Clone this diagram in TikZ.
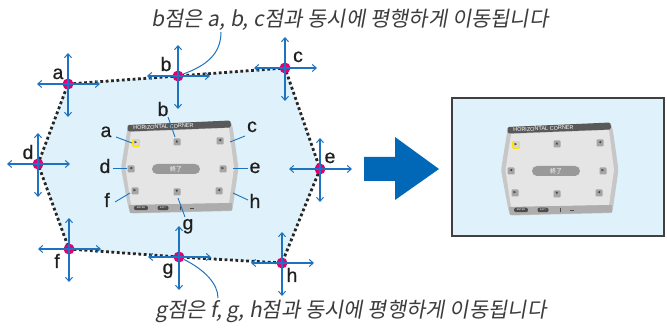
\documentclass[tikz,border=0pt]{standalone}
\usepackage{fontspec}
\setmainfont{Liberation Sans}
\newfontfamily\lblfont[FakeBold=0.6]{Liberation Sans}
\newfontfamily\krfont[FakeSlant=0.18]{Noto Sans CJK KR}
\newfontfamily\jpfont{Noto Sans CJK JP}
\newfontfamily\dvfont{DejaVu Sans}
\usetikzlibrary{arrows.meta,calc}
\definecolor{arrblue}{RGB}{30,115,190}
\definecolor{dotmag}{RGB}{226,0,122}
\definecolor{areablue}{RGB}{223,242,251}
\definecolor{bigblue}{RGB}{0,104,182}
\definecolor{txtgray}{RGB}{60,60,60}
\tikzset{
  movearrow/.style={draw=arrblue, line width=1.1pt, -{Straight Barb[length=4pt,width=7pt,line width=1pt]}},
  ptdot/.style={circle, fill=dotmag, inner sep=0pt, minimum size=11pt},
  lbl/.style={font=\lblfont\fontsize{19.5}{19.5}\selectfont, text=black!88, anchor=base, inner sep=0pt},
  leader/.style={draw=arrblue, line width=0.9pt},
  callout/.style={draw=arrblue, line width=1pt},
  hexoutline/.style={draw=black!85, line width=2.8pt, dash pattern=on 2.8pt off 2.6pt, fill=areablue},
  btn/.style={draw=none, fill=black!35, rounded corners=0.8pt, minimum size=7pt, inner sep=0pt, font=\dvfont\fontsize{3.5}{3.5}\selectfont, text=black!75},
  pill/.style={fill=black!70, rounded corners=2pt, minimum height=4.5pt, inner sep=0pt, text=white, font=\fontsize{2.5}{2.5}\selectfont},
  caption/.style={font=\krfont\fontsize{21}{21}\selectfont, text=txtgray, anchor=base, inner sep=0pt},
}
\newcommand\drawpanel[1]{%
  \fill[black!22, rounded corners=2pt] (128,126) -- (231,121.5) -- (233,129) -- (238.5,168) -- (233,206) -- (232,211) -- (130,213.5) -- (128,206) -- (121,168) -- (127,131) -- cycle;
  \fill[black!10] (131,132) -- (229,128) -- (234,168) -- (229,203) -- (131,205) -- (125.5,168) -- cycle;
  \fill[black!65, rounded corners=1.5pt] (127.5,131.5) -- (127.5,125) -- (230.5,120.5) -- (231,127.5) -- cycle;
  \node[font=\fontsize{5.5}{5.5}\selectfont, text=white, rotate=2.5, anchor=west, inner sep=0pt] (#1-title) at (133,128) {HORIZONTAL CORNER};
  \fill[black!32] (129,205) -- (232,203) -- (232,210.5) -- (130,213) -- cycle;
  \node[btn, fill=yellow!30!black!25, draw=yellow!85!orange, line width=0.7pt] (#1-a) at (136,143) {▶};
  \node[btn] (#1-b) at (177,142) {▲};
  \node[btn] (#1-c) at (220,141) {◀};
  \node[btn] (#1-d) at (131,169) {◀};
  \node[btn] (#1-e) at (223,169) {▶};
  \node[btn] (#1-f) at (135,191) {▶};
  \node[btn] (#1-g) at (177,192) {▼};
  \node[btn] (#1-h) at (219,191) {◀};
  \node[fill=black!40, rounded corners=5pt, minimum width=48pt, minimum height=10pt, inner sep=0pt, font=\jpfont\fontsize{6}{6}\selectfont, text=white] (#1-end) at (176,169) {終了};
  \node[pill, minimum width=14pt] (#1-enter) at (141,208) {ENTER};
  \node[pill, minimum width=11pt] (#1-exit) at (163,208) {EXIT};
  \fill[black!70] (179.5,206) rectangle (180.5,210);
  \fill[black!70] (190,208.3) rectangle (194,209.3);
}
\begin{document}
\begin{tikzpicture}[x=1pt,y=-1pt]
\useasboundingbox (0,0) rectangle (667,328);
\fill[white] (0,0) rectangle (667,328);

\foreach \n/\x/\y in {a/68/84,b/178/76,c/285/68,d/38/164,e/320/169,f/69/249,g/179/257,h/282/263}{
  \coordinate (\n) at (\x,\y);
  \coordinate (\n-u) at (\x,\y-31);
  \coordinate (\n-d) at (\x,\y+33);
  \coordinate (\n-l) at (\x-31,\y);
  \coordinate (\n-r) at (\x+32,\y);
}

% keystone area
\path[hexoutline] (a) -- (b) -- (c) -- (e) -- (h) -- (g) -- (f) -- (d) -- cycle;

% left menu panel
\drawpanel{L}

% right screen
\node[draw=black!75, line width=1.4pt, fill=areablue, minimum width=212pt, minimum height=138pt, inner sep=0pt] (screen) at (558,167) {};
\begin{scope}[shift={(380,2)}]
\drawpanel{R}
\end{scope}

% big arrow
\fill[bigblue] (364,157) -- (395,157) -- (395,137) -- (439,169) -- (395,200) -- (395,181) -- (364,181) -- cycle;

% corner dots and arrows
\foreach \n in {a,...,h}{
  \node[ptdot] (dot-\n) at (\n) {};
}
\foreach \n in {a,...,h}{
  \draw[movearrow] (\n) -- (\n-u);
  \draw[movearrow] (\n) -- (\n-d);
  \draw[movearrow] (\n) -- (\n-l);
  \draw[movearrow] (\n) -- (\n-r);
}

% outer labels
\node[lbl] (oa) at (58,79) {a};
\node[lbl] (ob) at (166,71) {b};
\node[lbl] (oc) at (298,62) {c};
\node[lbl] (od) at (28,159) {d};
\node[lbl] (oe) at (330,163) {e};
\node[lbl] (of) at (57,268) {f};
\node[lbl] (og) at (168,274) {g};
\node[lbl] (oh) at (292,282) {h};

% inner labels
\node[lbl] (ia) at (106,137) {a};
\node[lbl] (ib) at (163,116) {b};
\node[lbl] (ic) at (252,132) {c};
\node[lbl] (id) at (105,173) {d};
\node[lbl] (ie) at (255,173) {e};
\node[lbl] (if) at (107,207) {f};
\node[lbl] (ig) at (188,229.5) {g};
\node[lbl] (ih) at (255,208) {h};

% leaders
\foreach \n/\xa/\ya/\xb/\yb in {a/116/137/132/143, b/168/117/175/137, c/245/136/230/142, d/113/168/127/168, e/248/168/233/168, f/115/202/130/193, g/185/217/178/198, h/248/200/233/193}{
  \coordinate (ls-\n) at (\xa,\ya);
  \coordinate (le-\n) at (\xb,\yb);
  \draw[leader] (ls-\n) -- (le-\n);
}

% captions
\node[caption] (toptext) at (350,27) {b점은 a, b, c점과 동시에 평행하게 이동됩니다};
\node[caption] (bottext) at (351,318) {g점은 f, g, h점과 동시에 평행하게 이동됩니다};
\coordinate (ctop) at (221,32);
\coordinate (cbot) at (218,298);
\draw[callout] (ctop) .. controls (221,55) and (205,66) .. (dot-b);
\draw[callout] (dot-g) .. controls (205,270) and (218,284) .. (cbot);
\end{tikzpicture}
\end{document}
